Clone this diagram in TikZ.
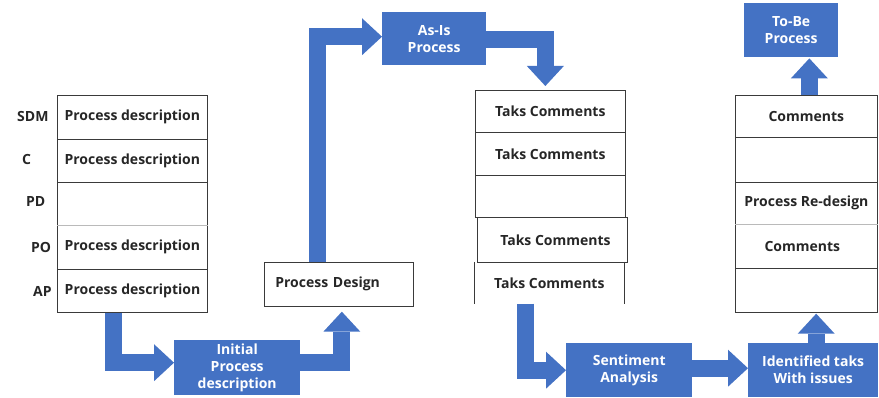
\documentclass[tikz,border=0pt]{standalone}
\usepackage{fontspec}
\setmainfont{Open Sans}
\usetikzlibrary{arrows.meta,calc}
\definecolor{obl}{HTML}{4472C4}
\definecolor{lin}{HTML}{3A3A3A}
\begin{document}
\begin{tikzpicture}[x=1pt,y=-1pt,
  txt/.style={font=\bfseries\fontsize{14}{17}\selectfont},
  cell/.style={txt,draw=lin,line width=0.7pt,anchor=north west,inner sep=0pt,
    minimum width=#1,text=black!85},
  cell/.default=150pt,
  bluebox/.style={txt,fill=obl,text=white,align=center,anchor=north west,inner sep=0pt},
  lab/.style={txt,anchor=west,inner sep=0pt,text=black!85},
  faint/.style={draw=lin!35,line width=0.8pt},
  barrow/.style={draw=obl,line width=17pt,line join=miter,
    -{Triangle[width=37pt,length=20pt,line width=0pt]}}]
\useasboundingbox (0,0) rectangle (879,398);
% left table
\node[cell,minimum height=44pt] (L1) at (57,95)  {Process description};
\node[cell,minimum height=43pt] (L2) at (57,139) {Process description};
\node[cell,minimum height=43pt] (L3) at (57,182) {};
\node[cell,minimum height=44pt] (L4) at (57,225) {Process description};
\node[cell,minimum height=43pt,line width=1pt] (L5) at (57,269) {Process description};
\draw[faint] (L4.north west) -- (L4.north east);
\node[lab] (lSDM) at (17,117) {SDM};
\node[lab] (lC)   at (22,160) {C};
\node[lab] (lPD)  at (26,202) {PD};
\node[lab] (lPO)  at (31,247) {PO};
\node[lab] (lAP)  at (33,291) {AP};
% blue boxes
\node[bluebox,minimum width=126pt,minimum height=55pt] (init) at (174,340) {Initial\\Process\\description};
\node[bluebox,minimum width=104pt,minimum height=53pt] (asis) at (382,12) {As-Is\\Process};
\node[bluebox,minimum width=126pt,minimum height=54pt] (sent) at (566,343) {Sentiment\\Analysis};
\node[bluebox,minimum width=130pt,minimum height=54pt] (ident) at (748,343) {Identified taks\\With issues};
\node[bluebox,minimum width=94pt,minimum height=54pt] (tobe) at (744,3) {To-Be\\Process};
% process design
\node[cell,minimum width=149pt,minimum height=44pt,inner xsep=11pt,text width=127pt,align=left] (pd) at (264,262) {Process Design};
% middle table
\node[cell,minimum height=42pt] (T1) at (475,90)  {Taks Comments};
\node[cell,minimum height=43pt] (T2) at (475,132) {Taks Comments};
\node[cell,minimum height=42pt] (T3) at (475,175) {};
\node[cell,minimum height=45pt,line width=1pt] (T4) at (477,217) {\hspace{6pt}Taks Comments};
\node[cell,minimum height=41pt,draw=none] (T5) at (474,262) {Taks Comments};
\draw[lin,line width=0.7pt] (T5.north west) -- (T5.south west) (T5.north east) -- (T5.south east);
% right table
\node[cell,minimum width=142pt,minimum height=42pt] (R1) at (735,95)  {Comments};
\node[cell,minimum width=142pt,minimum height=45pt] (R2) at (735,137) {};
\node[cell,minimum width=142pt,minimum height=42pt] (R3) at (735,182) {Process Re-design};
\node[cell,minimum width=142pt,minimum height=44pt] (R4) at (735,224) {\hspace{-8pt}Comments};
\node[cell,minimum width=142pt,minimum height=44pt] (R5) at (735,268) {};
\draw[faint] (R4.north west) -- (R4.north east);
% arrows
\draw[barrow] ([xshift=-19pt]L5.south) |- ([yshift=5pt]init.west);
\draw[barrow,shorten >=5pt] ([yshift=5pt]init.east) -| ([xshift=3pt]pd.south);
\draw[barrow] ([xshift=-21pt]pd.north) |- ([yshift=2pt]asis.west);
\draw[barrow,shorten >=4pt] ([yshift=-1pt]asis.east) -| ([xshift=-5pt]T1.north);
\draw[barrow] ([xshift=-24pt]T5.south) |- (sent.west);
\draw[barrow] ([yshift=2pt]sent.east) -- ([yshift=2pt]ident.west);
\draw[barrow,shorten >=1pt] ([xshift=3pt]ident.north) -- ([xshift=3pt]ident.north |- R5.south);
\draw[barrow,shorten >=1pt] ([xshift=3pt]R1.north) -- ([xshift=3pt]R1.north |- tobe.south);
\end{tikzpicture}
\end{document}
